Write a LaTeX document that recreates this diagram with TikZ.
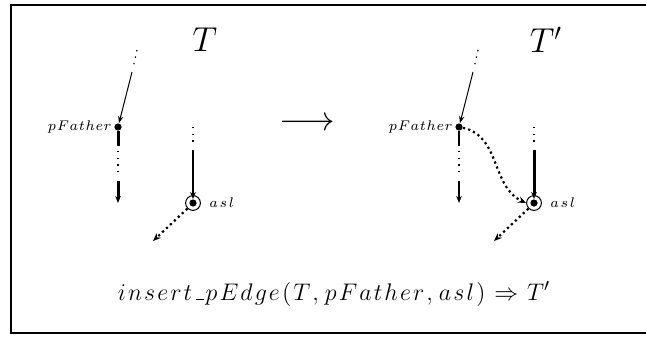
\documentclass[tikz,border=0pt]{standalone}
\usetikzlibrary{arrows.meta}
\newcommand{\lowbar}{\kern.06em\vbox{\hrule width .3em height .5pt}}
\newcommand{\lsk}{\kern1.05pt}
\newcommand{\lsm}{\kern0.3pt}
\newcommand{\pfname}{p\lsm F\lsm a\lsm t\lsm h\lsm e\lsm r}
\newcommand{\aslname}{a\kern0.8pt s\kern0.8pt l}
\begin{document}
\begin{tikzpicture}[x=0.5pt,y=-0.5pt,
  dotnode/.style={circle,fill=black,inner sep=0pt,minimum size=3.6pt},
  ringnode/.style={circle,draw=black,line width=0.5pt,inner sep=0pt,minimum size=7.4pt},
  dotseg/.style={line width=0.6pt,dash pattern=on 0.7pt off 2.6pt},
  thinedge/.style={line width=0.5pt,-{Stealth[length=3.5pt,width=2.6pt]}},
  midedge/.style={line width=0.8pt},
  thickedge/.style={line width=1.5pt},
  bigdots/.style={line width=1.1pt,dash pattern=on 1.1pt off 1.6pt,-{Stealth[length=4pt,width=3.2pt]}},
  lbl/.style={font=\scriptsize,inner sep=1pt},
  tip/.style={-{Stealth[length=3.5pt,width=2.8pt]}}]
\useasboundingbox (0,0) rectangle (646,337);
\draw[line width=1pt] (646,5) -- (10.5,5) -- (10.5,333) -- (646,333);

% ---------- left tree T ----------
\node (T) at (205,40) {\LARGE $T$};
\coordinate (a1) at (137,50);
\coordinate (a2) at (133,68);
\coordinate (a3) at (132,72);
\node[dotnode] (pF) at (118,127) {};
\node[lbl,anchor=east] (pFl) at (pF.west) {$\pfname$};
\coordinate (b1) at (118,146);
\coordinate (b2) at (118,151);
\coordinate (b3) at (118,176);
\coordinate (b4) at (118,181);
\coordinate (b5) at (118,203);
\draw[dotseg] (a1) -- (a2);
\draw[thinedge] (a3) -- (pF);
\draw[thickedge] (pF) -- (b1);
\draw[dotseg] (b2) -- (b3);
\draw[thickedge,tip] (b4) -- (b5);

\node[dotnode] (asl) at (193,203) {};
\node[ringnode] (aslr) at (193,203) {};
\node[lbl,anchor=west] (asll) at (207,203) {$\aslname$};
\coordinate (c1) at (193,127);
\coordinate (c2) at (193,146);
\coordinate (c3) at (193,150);
\coordinate (d1) at (153,241);
\draw[dotseg] (c1) -- (c2);
\draw[midedge,tip] (c3) -- (asl);
\draw[bigdots] (aslr.south west) -- (d1);

% ---------- transformation arrow ----------
\node (arr) at (307,124) {\LARGE $\longrightarrow$};

% ---------- right tree T' ----------
\node (Tp) at (546,40) {\LARGE $T'$};
\coordinate (e1) at (478,50);
\coordinate (e2) at (474,68);
\coordinate (e3) at (473,72);
\node[dotnode] (pF2) at (459,127) {};
\node[lbl,anchor=east] (pF2l) at (pF2.west) {$\pfname$};
\coordinate (f1) at (459,146);
\coordinate (f2) at (459,151);
\coordinate (f3) at (459,176);
\coordinate (f4) at (459,181);
\coordinate (f5) at (459,203);
\draw[dotseg] (e1) -- (e2);
\draw[thinedge] (e3) -- (pF2);
\draw[midedge] (pF2) -- (f1);
\draw[dotseg] (f2) -- (f3);
\draw[midedge,tip] (f4) -- (f5);

\node[dotnode] (asl2) at (534,203) {};
\node[ringnode] (asl2r) at (534,203) {};
\node[lbl,anchor=west] (asl2l) at (548,203) {$\aslname$};
\coordinate (g1) at (534,127);
\coordinate (g2) at (534,146);
\coordinate (g3) at (534,150);
\coordinate (h1) at (494,241);
\draw[dotseg] (g1) -- (g2);
\draw[thickedge,tip] (g3) -- (asl2);
\draw[bigdots] (asl2r.south west) -- (h1);
\draw[bigdots] (pF2) to[out=-12,in=155] (asl2r.west);

% ---------- caption ----------
\node[anchor=base,inner sep=0pt] (cap) at (334,300) {\fontsize{13}{15}\selectfont
  $i\lsk n\lsk s\lsk e\lsk r\lsk t\lsk\lowbar\lsk p\lsk E\lsk d\lsk g\lsk e\lsk(\lsk T\lsk,\lsk
   p\lsk F\lsk a\lsk t\lsk h\lsk e\lsk r\lsk,\lsk a\lsk s\lsk l\lsk)\lsk\Rightarrow\lsk T'$};
\end{tikzpicture}
\end{document}
